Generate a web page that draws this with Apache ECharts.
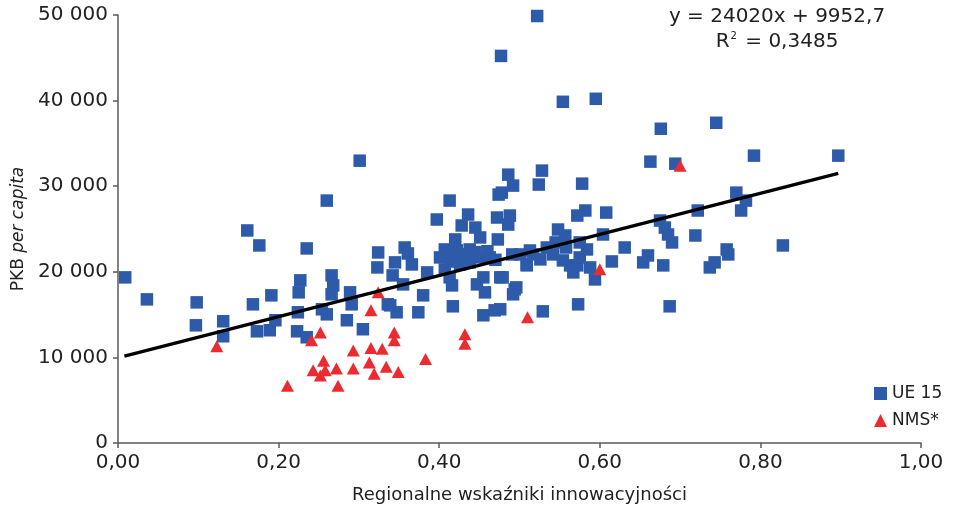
<!DOCTYPE html>
<html>
<head>
<meta charset="utf-8">
<script src="https://cdn.jsdelivr.net/npm/echarts@6/dist/echarts.min.js"></script>
<style>html,body{margin:0;padding:0;background:#fff;}#c{width:956px;height:509px;}</style>
</head>
<body>
<div id="c"></div>
<script>
// Data
const ue15Points = [
[0.009,19350],[0.036,16780],[0.098,16430],[0.097,13750],[0.131,14220],[0.131,12470],[0.161,24830],[0.176,23080],[0.168,16200],[0.173,13050],[0.191,17250],[0.196,14340],[0.189,13170],[0.227,19000],[0.225,17600],[0.224,15270],[0.223,13050],[0.235,12350],[0.235,22730],[0.260,28320],[0.301,32980],
[0.254,15620],[0.260,15030],[0.266,19580],[0.268,18410],[0.266,17370],[0.289,17600],[0.291,16200],[0.285,14340],[0.305,13290],[0.324,22260],[0.323,20510],[0.336,16200],[0.347,15270],[0.374,15270],[0.380,17250],[0.417,15970],
[0.357,22840],[0.361,22140],[0.345,21100],[0.366,20860],[0.342,19580],[0.355,18530],[0.385,19930],[0.397,26110],[0.413,28320],[0.474,29020],[0.486,31350],[0.492,30070],[0.436,26690],[0.472,26340],[0.488,26570],[0.486,25520],[0.428,25410],[0.445,25170],[0.451,24010],[0.420,23780],[0.473,23780],[0.407,22610],[0.416,22030],[0.426,22030],[0.435,22030],[0.451,21680],[0.463,21680],[0.407,20280],[0.413,19350],[0.416,18410],[0.426,20860],[0.438,21100],[0.455,19350],[0.447,18530],[0.476,19350],[0.457,17600],[0.494,17950],[0.492,17370],[0.491,22030],[0.509,20860],[0.501,22030],[0.517,22030],[0.534,22840],[0.542,22030],[0.554,21330],[0.563,20750],[0.572,20750],[0.575,21680],[0.584,22610],[0.575,23430],[0.615,21210],[0.594,19110],[0.339,16080],[0.455,14920],[0.469,15500],[0.529,15380],[0.573,16200],[0.572,26570],[0.582,27160],[0.608,26920],[0.548,24940],[0.557,24240],[0.604,24360],[0.631,22840],[0.660,21910],[0.654,21100],[0.679,20750],[0.675,25990],[0.681,25170],[0.685,24360],[0.690,23430],[0.719,24240],[0.722,27160],[0.737,20510],[0.743,21100],[0.687,15970],[0.513,22490],[0.509,20750],[0.479,19350],[0.476,15620],[0.496,18180],
[0.522,49880],[0.477,45220],[0.554,39860],[0.595,40210],[0.676,36710],[0.745,37410],[0.663,32870],[0.694,32630],[0.528,31820],[0.524,30190],[0.578,30300],[0.478,29250],[0.792,33570],[0.897,33570],[0.770,29250],[0.782,28320],[0.776,27160],[0.758,22610],[0.760,22030],[0.828,23080],
[0.401,21680],[0.438,22610],[0.545,23430],[0.558,22840],[0.588,20510],[0.567,19930],[0.526,21450],
[0.415,21200],[0.430,21500],[0.445,22300],[0.460,22400],[0.470,21400],[0.422,22500]
];
const nmsPoints = [
[0.123,11300],[0.211,6700],[0.241,12000],[0.252,12900],[0.243,8500],[0.256,9600],[0.258,8500],[0.252,7900],[0.272,8700],[0.274,6700],[0.293,10800],[0.293,8700],[0.313,9400],[0.315,11100],[0.319,8100],[0.329,11000],[0.334,8900],[0.344,12900],[0.344,12000],[0.349,8300],[0.383,9800],[0.432,12700],[0.432,11600],[0.324,17600],[0.315,15500],[0.510,14700],[0.600,20300],[0.700,32400]
];
// Trend line from the equation shown on the chart: y = 24020x + 9952,7
const trendSlope = 24020;
const trendIntercept = 9952.7;
const trendRange = [0.008, 0.897];
const trendLine = trendRange.map(x => [x, trendSlope * x + trendIntercept]);
const seriesNames = ['UE 15', 'NMS*'];
const equationText = 'y = 24020x + 9952,7';
const r2Value = '0,3485';

const FONT = '"DejaVu Sans", Verdana, sans-serif';
const chart = echarts.init(document.getElementById('c'), null, {renderer: 'canvas'});
chart.setOption({
  animation: false,
  backgroundColor: '#fff',
  textStyle: {fontFamily: FONT},
  grid: {left: 118, right: 35, top: 15, bottom: 63},
  xAxis: {
    type: 'value', min: 0, max: 1, interval: 0.2,
    name: 'Regionalne wskaźniki innowacyjności',
    nameLocation: 'middle', nameGap: 43,
    nameTextStyle: {fontSize: 18, color: '#222', fontFamily: FONT},
    axisLine: {lineStyle: {color: '#5a5a5a', width: 1.5}},
    axisTick: {show: true, length: 5, lineStyle: {color: '#5a5a5a', width: 1.5}},
    splitLine: {show: false},
    axisLabel: {fontSize: 20, color: '#222', margin: 10, fontFamily: FONT,
      formatter: v => v.toFixed(2).replace('.', ',')}
  },
  yAxis: {
    type: 'value', min: 0, max: 50000, interval: 10000,
    name: '{a|PKB }{b|per capita}',
    nameLocation: 'middle', nameGap: 86,
    nameTextStyle: {fontSize: 17, color: '#222', fontFamily: FONT,
      rich: {a: {fontSize: 17, color: '#222', fontFamily: FONT}, b: {fontSize: 17, color: '#222', fontStyle: 'italic', fontFamily: FONT}}},
    axisLine: {show: true, lineStyle: {color: '#5a5a5a', width: 1.5}},
    axisTick: {show: true, length: 5, lineStyle: {color: '#5a5a5a', width: 1.5}},
    splitLine: {show: false},
    axisLabel: {fontSize: 20, color: '#222', margin: 10, fontFamily: FONT,
      formatter: v => v === 0 ? '0' : (v / 1000) + ' 000'}
  },
  legend: {
    orient: 'vertical', left: 869, top: 380, itemWidth: 13, itemHeight: 13, itemGap: 10,
    data: seriesNames,
    textStyle: {fontSize: 17, color: '#222', fontFamily: FONT}
  },
  graphic: [
    {type: 'text', x: 777, y: 17, style: {text: equationText, font: '20px ' + FONT, fill: '#222', textAlign: 'center', textVerticalAlign: 'middle'}},
    {type: 'text', x: 777, y: 42, style: {text: '{r|R}{s|2}{r| = ' + r2Value + '}', font: '20px ' + FONT, fill: '#222', textAlign: 'center', textVerticalAlign: 'middle',
      rich: {r: {fontSize: 20, fontFamily: FONT, fill: '#222'}, s: {fontSize: 10, fontFamily: FONT, fill: '#222', verticalAlign: 'top', padding: [0, 2, 12, 1]}}}}
  ],
  series: [
    {name: seriesNames[0], type: 'scatter', data: ue15Points, symbol: 'rect', symbolSize: 12.5,
      itemStyle: {color: '#2d5ba9', opacity: 1}, z: 2},
    {name: seriesNames[1], type: 'scatter', data: nmsPoints, symbol: 'triangle', symbolSize: [13, 12],
      itemStyle: {color: '#ec2a2f', opacity: 1}, z: 3},
    {name: 'trend', type: 'line', data: trendLine, symbol: 'none', lineStyle: {color: '#000', width: 3.2}, z: 4, silent: true}
  ]
});
</script>
</body>
</html>
